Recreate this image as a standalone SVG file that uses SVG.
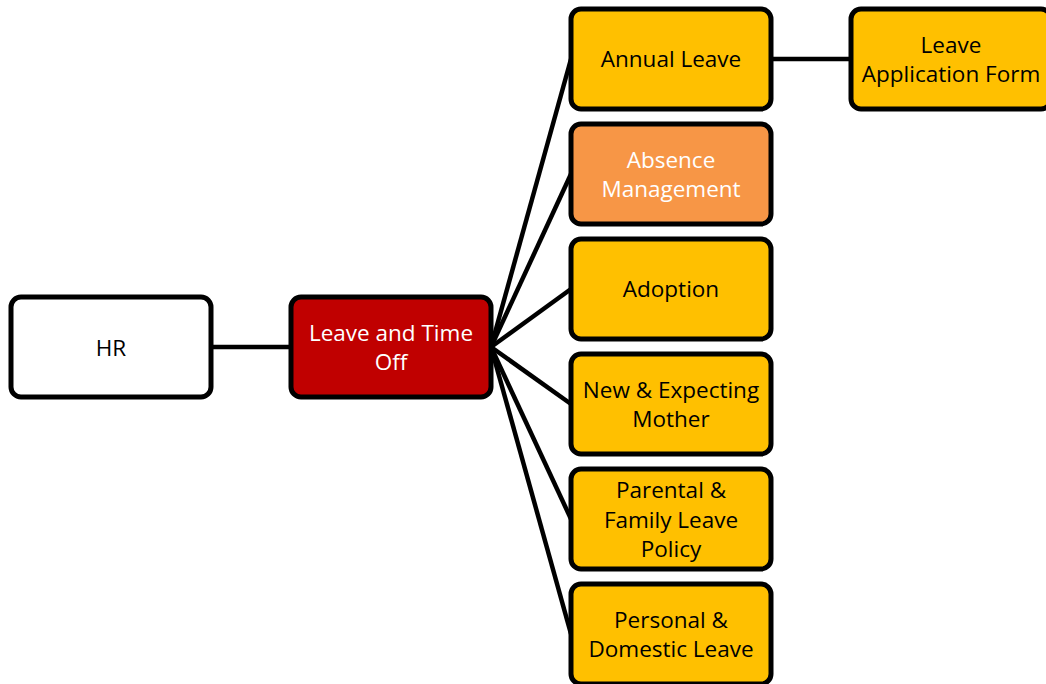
<svg xmlns="http://www.w3.org/2000/svg" width="1046" height="684" viewBox="0 0 1046 684">
<style>
.box{stroke:#000;stroke-width:5;}
.w{fill:#fff}.r{fill:#C00000}.y{fill:#FFC000}.o{fill:#F79646}
text{font-family:"Open Sans","Liberation Sans",sans-serif;font-size:22.5px;text-anchor:middle;dominant-baseline:central;fill:#000}
.wt{fill:#fff}
.c line{stroke:#000;stroke-width:4.5}
</style>
<rect width="1046" height="684" fill="#fff"/>
<g class="c">
<line x1="211" y1="347" x2="291" y2="347"/>
<line x1="491" y1="347" x2="571" y2="59"/>
<line x1="491" y1="347" x2="571" y2="174"/>
<line x1="491" y1="347" x2="571" y2="289"/>
<line x1="491" y1="347" x2="571" y2="404"/>
<line x1="491" y1="347" x2="571" y2="519"/>
<line x1="491" y1="347" x2="571" y2="634"/>
<line x1="771" y1="59" x2="851" y2="59"/>
</g>
<g id="hr"><rect class="box w" x="11" y="297" width="200" height="100" rx="10"/><text x="111" y="347">HR</text></g>
<g id="leave"><rect class="box r" x="291" y="297" width="200" height="100" rx="10"/><text class="wt" x="391" y="332">Leave and Time</text><text class="wt" x="391" y="361">Off</text></g>
<g id="annual"><rect class="box y" x="571" y="9" width="200" height="100" rx="10"/><text x="671" y="58">Annual Leave</text></g>
<g id="form"><rect class="box y" x="851" y="9" width="200" height="100" rx="10"/><text x="951" y="44">Leave</text><text x="951" y="73">Application Form</text></g>
<g id="absence"><rect class="box o" x="571" y="124" width="200" height="100" rx="10"/><text class="wt" x="671" y="159">Absence</text><text class="wt" x="671" y="188">Management</text></g>
<g id="adoption"><rect class="box y" x="571" y="239" width="200" height="100" rx="10"/><text x="671" y="288">Adoption</text></g>
<g id="mother"><rect class="box y" x="571" y="354" width="200" height="100" rx="10"/><text x="671" y="389">New &amp; Expecting</text><text x="671" y="418">Mother</text></g>
<g id="parental"><rect class="box y" x="571" y="469" width="200" height="100" rx="10"/><text x="671" y="489">Parental &amp;</text><text x="671" y="519">Family Leave</text><text x="671" y="548">Policy</text></g>
<g id="personal"><rect class="box y" x="571" y="584" width="200" height="100" rx="10"/><text x="671" y="619">Personal &amp;</text><text x="671" y="648">Domestic Leave</text></g>
</svg>
